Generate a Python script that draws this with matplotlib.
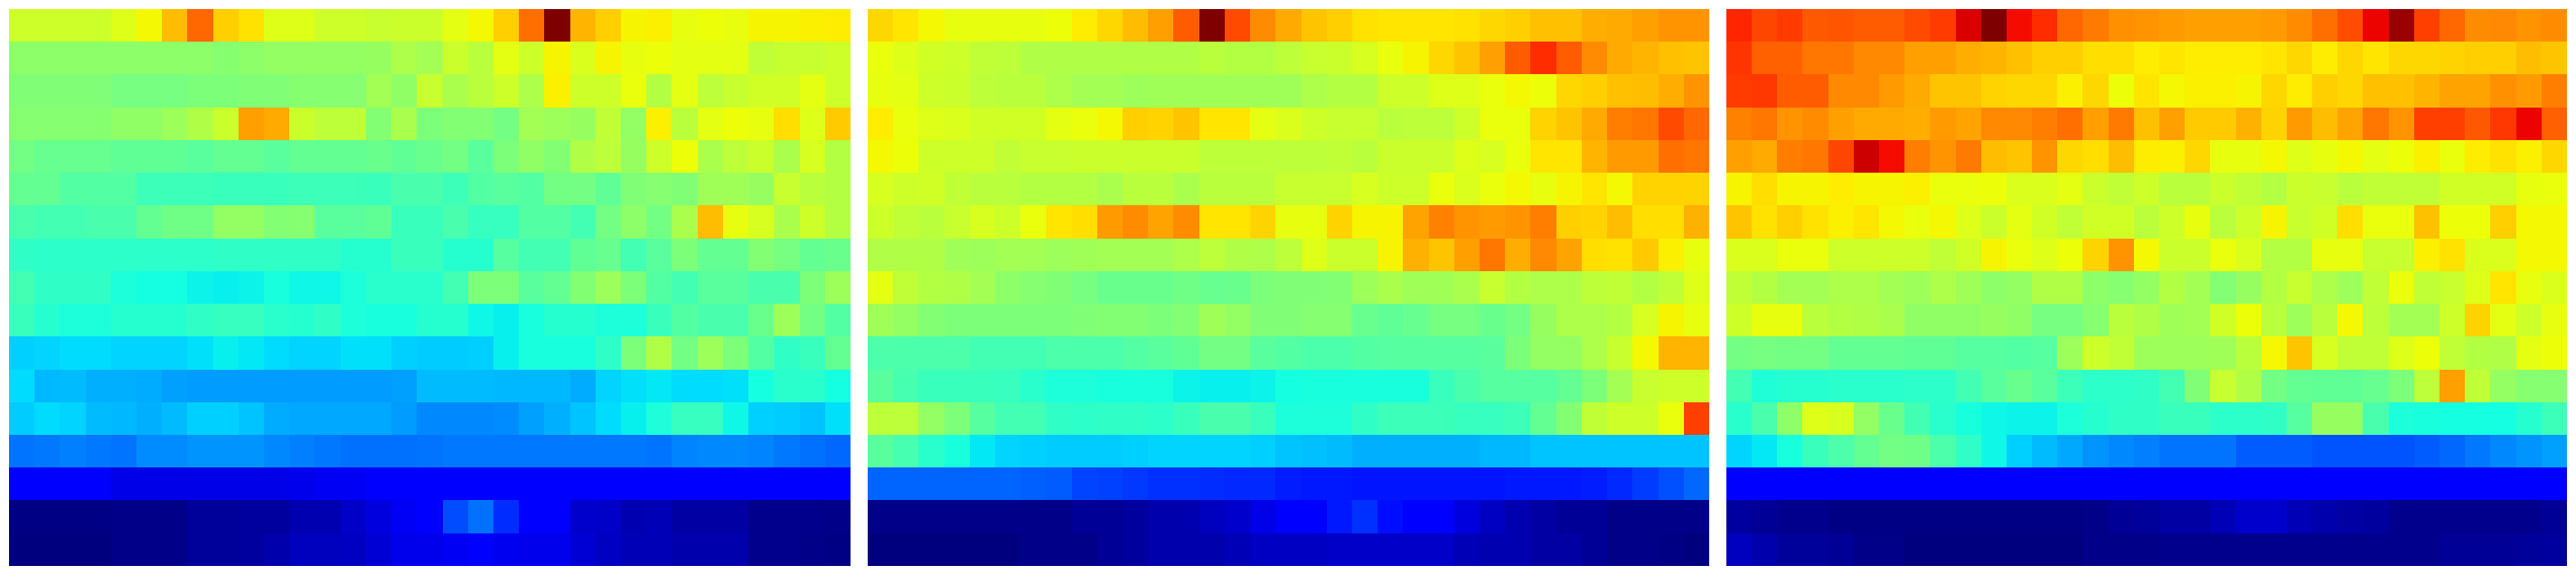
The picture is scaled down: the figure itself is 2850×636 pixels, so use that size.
import matplotlib
matplotlib.use("Agg")
import matplotlib.pyplot as plt
import numpy as np

left_panel = [
    [.60,.60,.60,.60,.62,.645,.71,.80,.69,.67,.62,.62,.60,.60,.59,.595,.595,.625,.645,.69,.79,1.0,.715,.69,.65,.655,.63,.64,.63,.65,.65,.655,.66],
    [.52,.52,.52,.52,.52,.52,.52,.52,.515,.52,.53,.53,.53,.53,.535,.56,.55,.595,.575,.625,.60,.65,.615,.65,.63,.64,.625,.625,.625,.585,.59,.59,.60],
    [.505,.505,.505,.505,.495,.495,.495,.50,.50,.505,.505,.515,.515,.515,.55,.525,.59,.555,.575,.60,.56,.655,.60,.60,.635,.57,.625,.58,.59,.605,.605,.625,.60],
    [.515,.515,.515,.515,.525,.525,.54,.565,.595,.74,.73,.595,.58,.58,.51,.555,.50,.51,.51,.49,.55,.54,.535,.585,.53,.655,.575,.625,.64,.63,.675,.62,.695],
    [.49,.475,.475,.475,.465,.465,.465,.46,.47,.47,.46,.47,.47,.47,.48,.465,.48,.49,.46,.50,.525,.51,.565,.58,.535,.60,.64,.555,.58,.595,.555,.61,.57],
    [.47,.47,.45,.45,.45,.425,.425,.425,.42,.42,.42,.425,.425,.425,.42,.44,.44,.425,.45,.46,.45,.49,.49,.465,.505,.515,.505,.545,.545,.535,.59,.575,.57],
    [.44,.43,.43,.44,.44,.47,.485,.485,.53,.53,.51,.515,.46,.46,.465,.42,.42,.44,.415,.415,.45,.45,.43,.49,.52,.49,.555,.71,.63,.61,.555,.60,.57],
    [.41,.405,.405,.405,.405,.405,.405,.405,.41,.41,.41,.41,.41,.395,.395,.42,.42,.395,.395,.455,.43,.43,.465,.475,.43,.46,.50,.47,.47,.51,.495,.47,.48],
    [.43,.41,.41,.41,.385,.375,.375,.365,.36,.365,.38,.37,.37,.385,.40,.40,.40,.43,.50,.50,.46,.47,.51,.54,.50,.45,.43,.46,.46,.44,.44,.50,.54],
    [.42,.395,.385,.385,.395,.395,.395,.41,.415,.415,.40,.395,.41,.385,.38,.38,.395,.395,.37,.36,.38,.395,.395,.385,.385,.42,.45,.44,.44,.48,.54,.49,.45],
    [.33,.335,.34,.34,.335,.335,.335,.345,.36,.355,.34,.335,.335,.345,.345,.33,.325,.325,.33,.36,.38,.38,.38,.41,.50,.565,.49,.54,.50,.45,.41,.42,.47],
    [.34,.305,.31,.30,.30,.295,.285,.28,.28,.28,.28,.28,.28,.28,.28,.285,.31,.31,.31,.305,.305,.305,.295,.335,.345,.355,.34,.34,.345,.375,.40,.40,.375],
    [.325,.34,.335,.31,.305,.30,.31,.33,.33,.32,.295,.29,.29,.29,.29,.28,.26,.26,.26,.265,.285,.30,.32,.34,.36,.385,.415,.415,.37,.33,.325,.32,.345],
    [.24,.245,.25,.245,.24,.265,.265,.27,.27,.27,.26,.25,.245,.235,.235,.235,.24,.245,.245,.245,.245,.245,.245,.245,.245,.24,.255,.26,.26,.255,.245,.235,.23],
    [.115,.115,.115,.115,.09,.09,.09,.09,.09,.09,.09,.095,.105,.105,.11,.11,.11,.11,.11,.11,.11,.11,.11,.11,.11,.11,.11,.11,.11,.11,.11,.11,.11],
    [.005,.005,.005,.005,.01,.01,.01,.025,.025,.03,.03,.045,.045,.065,.085,.105,.125,.20,.235,.17,.115,.115,.07,.065,.045,.05,.035,.035,.035,.015,.015,.015,.01],
    [.002,.002,.002,.002,.008,.008,.008,.025,.025,.03,.04,.055,.055,.06,.075,.095,.095,.105,.11,.10,.095,.095,.075,.06,.05,.05,.04,.04,.04,.015,.015,.01,.005],
]

middle_panel = [
    [.68,.665,.645,.63,.63,.63,.63,.64,.66,.68,.71,.74,.81,1.0,.83,.76,.73,.70,.69,.67,.665,.665,.665,.67,.68,.69,.705,.705,.725,.73,.74,.75,.75],
    [.635,.62,.605,.60,.585,.58,.565,.565,.565,.565,.565,.565,.565,.575,.57,.57,.58,.59,.595,.61,.635,.65,.68,.70,.74,.81,.86,.81,.76,.73,.715,.705,.70],
    [.63,.625,.60,.595,.58,.575,.575,.56,.55,.55,.54,.545,.545,.545,.545,.545,.545,.56,.57,.57,.60,.60,.62,.62,.635,.645,.64,.68,.69,.705,.71,.725,.75],
    [.66,.635,.62,.615,.605,.605,.605,.625,.635,.645,.69,.685,.70,.665,.665,.625,.615,.60,.59,.59,.575,.58,.58,.60,.635,.635,.685,.70,.73,.775,.785,.83,.80],
    [.645,.64,.60,.60,.60,.585,.59,.59,.595,.595,.595,.595,.595,.58,.58,.58,.58,.58,.585,.575,.595,.595,.595,.62,.61,.635,.665,.665,.715,.745,.745,.79,.785],
    [.61,.60,.605,.585,.575,.575,.57,.57,.57,.555,.575,.575,.555,.575,.575,.575,.59,.59,.59,.61,.60,.60,.635,.615,.635,.645,.63,.65,.665,.645,.685,.685,.685],
    [.60,.585,.575,.59,.61,.60,.635,.665,.675,.745,.76,.735,.76,.665,.665,.685,.63,.63,.685,.65,.65,.735,.77,.75,.745,.75,.775,.69,.685,.71,.675,.675,.72],
    [.565,.565,.565,.545,.54,.55,.55,.54,.545,.55,.55,.55,.56,.58,.565,.56,.58,.62,.595,.595,.65,.72,.70,.74,.785,.725,.765,.735,.675,.67,.695,.655,.63],
    [.625,.585,.57,.565,.55,.52,.515,.505,.495,.48,.48,.48,.485,.475,.48,.50,.505,.505,.51,.54,.555,.545,.545,.555,.59,.57,.56,.56,.58,.585,.57,.585,.62],
    [.545,.53,.51,.50,.50,.50,.50,.50,.505,.51,.51,.50,.51,.545,.53,.505,.505,.515,.515,.48,.465,.475,.495,.495,.48,.49,.535,.56,.56,.57,.61,.65,.63],
    [.445,.445,.445,.445,.43,.43,.43,.445,.445,.445,.45,.46,.465,.49,.49,.46,.45,.445,.445,.45,.455,.455,.455,.455,.46,.50,.53,.53,.56,.59,.645,.715,.715],
    [.46,.435,.42,.42,.42,.415,.40,.385,.385,.38,.38,.38,.365,.36,.36,.365,.375,.38,.38,.38,.38,.38,.42,.44,.455,.455,.455,.47,.50,.55,.59,.60,.60],
    [.58,.58,.53,.50,.455,.43,.43,.41,.405,.41,.41,.405,.42,.44,.44,.42,.385,.385,.385,.41,.425,.425,.425,.415,.415,.425,.47,.51,.585,.60,.60,.635,.84],
    [.46,.435,.40,.38,.355,.335,.33,.325,.325,.325,.33,.335,.335,.335,.335,.33,.32,.315,.31,.30,.30,.30,.30,.30,.305,.305,.32,.32,.32,.32,.32,.32,.32],
    [.225,.225,.225,.225,.225,.225,.22,.215,.195,.19,.18,.175,.175,.17,.165,.165,.155,.15,.15,.145,.145,.145,.145,.145,.145,.15,.15,.15,.155,.165,.185,.205,.23],
    [.01,.01,.01,.01,.01,.01,.01,.01,.02,.02,.03,.04,.04,.055,.07,.09,.11,.125,.15,.175,.14,.11,.11,.085,.06,.045,.035,.02,.02,.01,.01,.01,.01],
    [.002,.002,.002,.002,.002,.002,.008,.008,.008,.02,.03,.04,.04,.04,.05,.06,.06,.06,.065,.065,.065,.065,.065,.05,.045,.045,.035,.035,.02,.01,.01,.005,.0],
]

right_panel = [
    [.87,.835,.845,.815,.82,.81,.81,.83,.845,.92,1.0,.895,.86,.80,.78,.755,.75,.745,.74,.74,.74,.745,.76,.79,.825,.905,.975,.84,.80,.76,.765,.75,.76],
    [.855,.805,.805,.785,.785,.765,.765,.74,.74,.725,.715,.705,.69,.69,.675,.675,.66,.665,.66,.66,.66,.665,.68,.66,.68,.665,.68,.68,.685,.69,.69,.71,.70],
    [.845,.85,.81,.81,.765,.765,.745,.73,.70,.70,.685,.68,.68,.655,.68,.64,.665,.645,.655,.655,.65,.68,.66,.69,.68,.705,.705,.715,.735,.735,.755,.745,.775],
    [.77,.785,.75,.76,.74,.73,.73,.725,.745,.735,.765,.765,.775,.79,.74,.78,.705,.74,.695,.695,.72,.685,.745,.71,.735,.785,.75,.84,.84,.815,.85,.905,.805],
    [.74,.73,.775,.785,.835,.93,.895,.775,.75,.78,.71,.70,.75,.68,.675,.71,.66,.655,.68,.63,.63,.645,.62,.63,.645,.625,.64,.655,.635,.66,.67,.655,.68],
    [.65,.675,.65,.65,.66,.65,.65,.655,.635,.635,.64,.615,.615,.625,.595,.585,.60,.575,.575,.595,.585,.57,.595,.59,.575,.585,.585,.585,.605,.605,.605,.63,.635],
    [.70,.67,.69,.67,.655,.665,.645,.635,.645,.62,.595,.625,.605,.585,.605,.605,.575,.60,.63,.575,.60,.65,.59,.605,.675,.635,.635,.705,.64,.64,.69,.645,.645],
    [.615,.615,.635,.635,.60,.60,.60,.60,.585,.605,.65,.635,.62,.64,.685,.75,.645,.595,.595,.635,.615,.57,.57,.63,.63,.59,.59,.655,.67,.615,.615,.645,.645],
    [.585,.57,.55,.55,.56,.56,.55,.54,.56,.545,.52,.53,.565,.565,.52,.515,.53,.57,.55,.51,.535,.57,.59,.56,.54,.585,.635,.585,.59,.62,.665,.63,.615],
    [.60,.63,.63,.575,.57,.565,.555,.525,.525,.525,.535,.525,.495,.495,.515,.575,.565,.545,.55,.605,.64,.575,.54,.575,.645,.58,.55,.55,.60,.685,.625,.60,.63],
    [.49,.495,.49,.49,.47,.47,.47,.465,.465,.455,.455,.45,.455,.54,.60,.585,.54,.54,.54,.545,.575,.645,.70,.61,.585,.585,.62,.64,.585,.57,.565,.625,.64],
    [.43,.39,.395,.395,.40,.40,.40,.405,.405,.43,.46,.48,.46,.425,.405,.405,.41,.43,.505,.59,.565,.49,.47,.465,.465,.475,.50,.58,.74,.585,.53,.515,.515],
    [.40,.44,.52,.62,.61,.53,.48,.43,.40,.38,.37,.365,.365,.385,.395,.41,.41,.42,.42,.405,.405,.41,.455,.535,.535,.44,.385,.38,.375,.375,.375,.395,.425],
    [.335,.355,.38,.42,.445,.47,.49,.485,.445,.41,.37,.33,.31,.29,.27,.26,.25,.24,.24,.24,.215,.215,.215,.21,.21,.21,.21,.215,.23,.245,.26,.27,.285],
    [.11,.11,.11,.11,.11,.11,.11,.11,.11,.11,.11,.11,.11,.11,.11,.11,.11,.11,.11,.11,.11,.11,.11,.11,.11,.11,.11,.11,.11,.11,.11,.11,.11],
    [.03,.02,.015,.015,.005,.005,.005,.005,.005,.005,.005,.005,.005,.005,.01,.02,.025,.035,.035,.05,.07,.07,.05,.04,.035,.03,.015,.015,.015,.015,.015,.015,.02],
    [.055,.04,.025,.025,.02,.008,.008,.003,.003,.003,.003,.003,.003,.003,.01,.01,.01,.015,.015,.015,.015,.015,.015,.015,.015,.015,.015,.015,.02,.02,.02,.025,.03],
]

panels = [left_panel, middle_panel, right_panel]
lefts = [10, 960, 1910]

W, H = 2850, 636
fig = plt.figure(figsize=(W / 100, H / 100), dpi=100)
for grid, x0 in zip(panels, lefts):
    ax = fig.add_axes([x0 / W, (H - 626) / H, 930 / W, 616 / H])
    ax.imshow(np.array(grid), cmap="jet", vmin=0, vmax=1, aspect="auto", interpolation="nearest")
    ax.axis("off")

fig.savefig("out.png", dpi=100, facecolor="white")
